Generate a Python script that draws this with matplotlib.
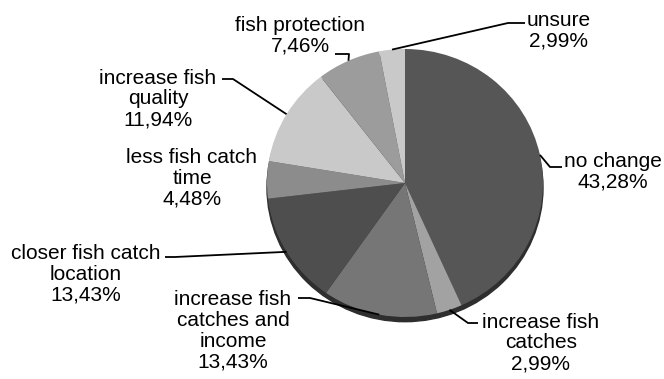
import matplotlib
matplotlib.use("Agg")
import matplotlib.pyplot as plt
import numpy as np
from matplotlib.patches import Ellipse

plt.rcParams['font.family'] = ['Liberation Sans', 'DejaVu Sans']

# answer categories, clockwise from 12 o'clock
categories = ["no change", "increase fish\ncatches", "increase fish\ncatches and\nincome",
              "closer fish catch\nlocation", "less fish catch\ntime", "increase fish\nquality",
              "fish protection", "unsure"]
shares = [43.28, 2.99, 13.43, 13.43, 4.48, 11.94, 7.46, 2.99]
colors = ["#565656", "#a2a2a2", "#767676", "#4e4e4e", "#8c8c8c", "#c9c9c9", "#9c9c9c", "#c9c9c9"]

# label block centres and leader knee points, in figure pixels (x from left, y from top)
label_pos = [(613, 172), (541, 343), (233, 331), (86, 274), (192, 178), (158, 99), (300, 36), (559, 31)]
leader_start = [(562, 167), (478, 323), (298, 298), (165, 257), None, (222, 79), (335, 54), (525, 23)]
leader_knee = [(550, 167), (468, 323), (310, 298), (175, 257), None, (233, 79), (349, 54), (508, 23)]

W, H = 664, 379
cx, cy, rx, ry = 405, 183, 138, 134

fig = plt.figure(figsize=(W / 100, H / 100), dpi=100)
ax = fig.add_axes([(cx - rx) / W, (H - cy - ry) / H, 2 * rx / W, 2 * ry / H])


def to_data(p):
    return (p[0] - cx) / rx, (cy - p[1]) / ry


# dark rim under the pie
ax.add_patch(Ellipse((0, -0.035), 2.0, 2.0, color="#2e2e2e", zorder=0, clip_on=False))

wedges, _ = ax.pie(shares, colors=colors, startangle=90, counterclock=False,
                   radius=1, center=(0, 0), frame=True,
                   wedgeprops=dict(linewidth=0))
# pie() forces an equal aspect; let the slightly oval shape fill the axes box
ax.set_aspect('auto')
ax.set_xlim(-1, 1)
ax.set_ylim(-1, 1)
ax.axis('off')

for i, w in enumerate(wedges):
    pct = f"{shares[i]:.2f}".replace(".", ",") + "%"
    txt = categories[i] + "\n" + pct
    tx, ty = to_data(label_pos[i])
    ax.text(tx, ty, txt, ha="center", va="center", fontsize=15, linespacing=1.12,
            color="black", clip_on=False)
    if leader_start[i] is None:
        continue
    mid = np.deg2rad((w.theta1 + w.theta2) / 2)
    ex, ey = np.cos(mid), np.sin(mid)
    sx, sy = to_data(leader_start[i])
    kx, ky = to_data(leader_knee[i])
    ax.plot([sx, kx, ex], [sy, ky, ey], color="black", lw=1.3, clip_on=False,
            solid_capstyle="butt")

fig.savefig("out.png", dpi=100, facecolor="white")
